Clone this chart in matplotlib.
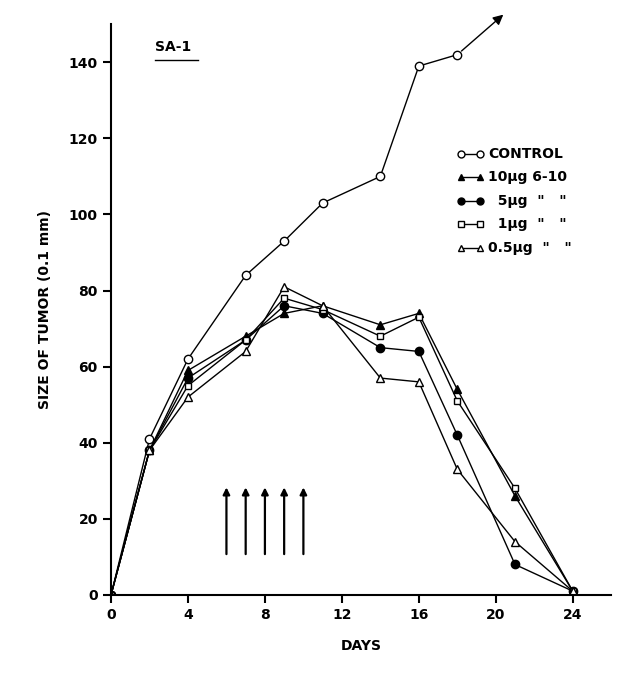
import matplotlib.pyplot as plt

days = [0, 2, 4, 7, 9, 11, 14, 16, 18, 21, 24]
control = [0, 41, 62, 84, 93, 103, 110, 139, 142]
ug10 = [0, 38, 59, 68, 74, 76, 71, 74, 54, 26, 1]
ug5 = [0, 38, 57, 67, 76, 74, 65, 64, 42, 8, 1]
ug1 = [0, 38, 55, 67, 78, 75, 68, 73, 51, 28, 1]
ug05 = [0, 38, 52, 64, 81, 76, 57, 56, 33, 14, 1]
arrow_days = [6, 7, 8, 9, 10]

plt.rcParams['font.family'] = 'DejaVu Sans'
plt.rcParams['font.weight'] = 'bold'
fig = plt.figure(figsize=(6.38, 6.73), dpi=100)
ax = fig.add_axes([0.174, 0.116, 0.784, 0.848])

ms = 6
ax.plot(days[:9], control, 'k-o', mfc='white', ms=ms, lw=1)
ax.annotate('', xy=(20.5, 153), xytext=(days[8], control[8]), annotation_clip=False,
            arrowprops=dict(arrowstyle='-|>', color='k', lw=1, mutation_scale=15, shrinkA=4))
ax.plot(days, ug10, 'k-^', ms=ms, lw=1)
ax.plot(days, ug5, 'k-o', ms=ms, lw=1)
ax.plot(days, ug1, 'k-s', mfc='white', ms=ms - 1, lw=1)
ax.plot(days, ug05, 'k-^', mfc='white', ms=ms, lw=1)

for d in arrow_days:
    ax.annotate('', xy=(d, 29), xytext=(d, 10),
                arrowprops=dict(arrowstyle='-|>', color='k', lw=1.6, mutation_scale=10))

ax.text(2.3, 143, 'SA-1', fontsize=10, fontweight='bold')
ax.plot([2.3, 4.5], [140.5, 140.5], 'k-', lw=1)

# legend
lx, ly, dy = 18.2, 116, 6.2
labels = ['CONTROL', '10μg 6-10', '  5μg  "   "', '  1μg  "   "', '0.5μg  "   "']
styles = [('o', 'white'), ('^', 'k'), ('o', 'k'), ('s', 'white'), ('^', 'white')]
for i, (lab, (m, fc)) in enumerate(zip(labels, styles)):
    yy = ly - i * dy
    ax.plot([lx, lx + 1.0], [yy, yy], 'k-', lw=1, marker=m, mfc=fc, ms=5, clip_on=False)
    ax.text(lx + 1.4, yy, lab, va='center', fontsize=10, fontweight='bold')

ax.set_xlim(0, 26)
ax.set_ylim(0, 150)
ax.set_xticks([0, 4, 8, 12, 16, 20, 24])
ax.set_yticks([0, 20, 40, 60, 80, 100, 120, 140])
ax.tick_params(labelsize=10, width=1.5, length=6)
for s in ['top', 'right']:
    ax.spines[s].set_visible(False)
for s in ['left', 'bottom']:
    ax.spines[s].set_linewidth(1.5)
ax.set_xlabel('DAYS', fontsize=10, fontweight='bold', labelpad=12)
ax.set_ylabel('SIZE OF TUMOR (0.1 mm)', fontsize=10, fontweight='bold', labelpad=12)
fig.savefig('out.png')
